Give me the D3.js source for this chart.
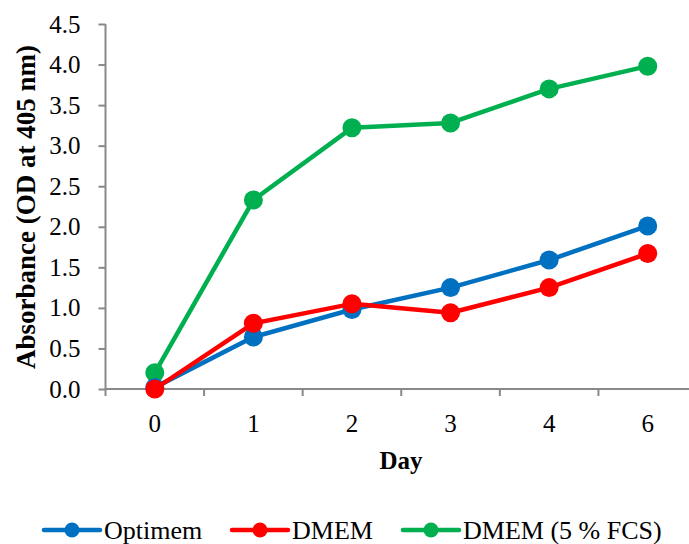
<!DOCTYPE html>
<html>
<head>
<meta charset="utf-8">
<script src="https://cdn.jsdelivr.net/npm/d3@7"></script>
<style>
  html, body { margin: 0; padding: 0; background: #fff; }
  svg text { font-family: "Liberation Serif", "Times New Roman", Tinos, "DejaVu Serif", serif !important; }
</style>
</head>
<body>
<svg id="chart" width="689" height="544"></svg>
<script>
// Absorbance over time for three culture media
const days = ["0", "1", "2", "3", "4", "6"];
const optimem = [0.02, 0.64, 0.98, 1.25, 1.59, 2.01];
const dmem = [0.0, 0.81, 1.05, 0.94, 1.25, 1.67];
const dmemFcs = [0.20, 2.33, 3.22, 3.28, 3.70, 3.98];
const yTicks = [0, 0.5, 1, 1.5, 2, 2.5, 3, 3.5, 4, 4.5];

const seriesNames = ["Optimem", "DMEM", "DMEM (5 % FCS)"];
const seriesColors = ["#0070C0", "#FF0000", "#00B050"];
const seriesValues = [optimem, dmem, dmemFcs];

const svg = d3.select("#chart");
const axisColor = "#898989";

const x = d3.scaleBand().domain(days).range([105.5, 697]).padding(0);
const y = d3.scaleLinear().domain([0, 4.5]).range([389, 24]);

// Y axis
const yAxis = svg.append("g")
  .attr("transform", "translate(105.5,0)")
  .call(d3.axisLeft(y).tickValues(yTicks).tickSize(7).tickPadding(18)
    .tickFormat(d3.format(".1f")));
yAxis.attr("font-family", null);
yAxis.select(".domain").attr("stroke", axisColor).attr("stroke-width", 2)
  .attr("d", `M0,${y(4.5)}V${y(0)}`);
yAxis.selectAll(".tick line").attr("stroke", axisColor).attr("stroke-width", 2);
yAxis.selectAll(".tick text").attr("fill", "#000").attr("font-size", 25);

// X axis: ticks sit between categories
const xAxisG = svg.append("g").attr("transform", "translate(0,389)");
xAxisG.append("line")
  .attr("x1", x.range()[0]).attr("x2", x.range()[1])
  .attr("stroke", axisColor).attr("stroke-width", 2);
const bounds = days.map(d => x(d)).concat([x.range()[1]]);
xAxisG.selectAll("line.tick")
  .data(bounds).join("line").attr("class", "tick")
  .attr("x1", d => d).attr("x2", d => d).attr("y1", 0).attr("y2", 7)
  .attr("stroke", axisColor).attr("stroke-width", 2);
xAxisG.selectAll("text")
  .data(days).join("text")
  .attr("x", d => x(d) + x.bandwidth() / 2).attr("y", 43)
  .attr("text-anchor", "middle").attr("font-size", 25)
  .text(d => d);

// Axis titles
svg.append("text")
  .attr("x", 401).attr("y", 469).attr("text-anchor", "middle")
  .attr("font-size", 25).attr("font-weight", "bold").text("Day");
svg.append("text")
  .attr("transform", "translate(35,207) rotate(-90)")
  .attr("text-anchor", "middle")
  .attr("font-size", 27).attr("font-weight", "bold").text("Absorbance (OD at 405 nm)");

// Series (drawn green first so red/blue overlay it at day 0)
const cx = d => x(d) + x.bandwidth() / 2;
const line = d3.line().x((v, i) => cx(days[i])).y(v => y(v));
[2, 0, 1].forEach(k => {
  const g = svg.append("g");
  g.append("path").datum(seriesValues[k])
    .attr("d", line).attr("fill", "none")
    .attr("stroke", seriesColors[k]).attr("stroke-width", 4.5)
    .attr("stroke-linejoin", "round");
  g.selectAll("circle").data(seriesValues[k]).join("circle")
    .attr("cx", (v, i) => cx(days[i])).attr("cy", v => y(v))
    .attr("r", 9.5).attr("fill", seriesColors[k]);
});

// Legend
const legendX = [44, 232, 403];
const legend = svg.append("g");
seriesNames.forEach((name, k) => {
  const lg = legend.append("g").attr("transform", `translate(${legendX[k]},530)`);
  lg.append("line").attr("x1", 0).attr("x2", 56)
    .attr("stroke", seriesColors[k]).attr("stroke-width", 4.5).attr("stroke-linecap", "round");
  lg.append("circle").attr("cx", 28).attr("r", 7.5).attr("fill", seriesColors[k]);
  lg.append("text").attr("x", 60).attr("y", 8.5)
    .attr("font-size", 26).text(name);
});
</script>
</body>
</html>
